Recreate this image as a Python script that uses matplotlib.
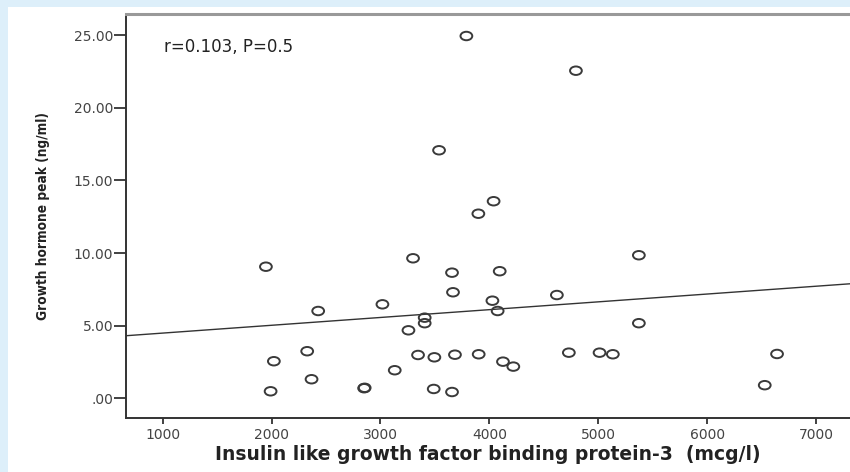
import numpy as np
import matplotlib.pyplot as plt
from matplotlib.path import Path
from matplotlib.transforms import Affine2D
from matplotlib.patches import Rectangle

# IGFBP-3 (mcg/l) vs growth hormone peak (ng/ml)
igfbp3 = [3789, 4795, 3538, 4039, 3899, 3299, 3657, 4095, 3666, 4620,
          4028, 3018, 2428, 4076, 3406, 3406, 3257, 2327, 3345, 3495,
          3684, 3902, 4730, 5012, 5134, 4125, 4220, 3131, 2367, 2850,
          2855, 3489, 3657, 5373, 5373, 6642, 6529, 1948, 2021, 1991]
gh_peak = [24.95, 22.56, 17.08, 13.57, 12.71, 9.64, 8.65, 8.75, 7.30, 7.11,
           6.72, 6.47, 6.01, 6.01, 5.55, 5.17, 4.68, 3.24, 2.98, 2.82,
           3.00, 3.03, 3.14, 3.14, 3.03, 2.52, 2.18, 1.93, 1.31, 0.69,
           0.72, 0.64, 0.43, 9.85, 5.17, 3.05, 0.90, 9.06, 2.55, 0.48]

# fit line as drawn in the figure
fit_intercept = 3.95
fit_slope = 0.000538

x_ticks = [1000, 2000, 3000, 4000, 5000, 6000, 7000]
y_ticks = [0, 5, 10, 15, 20, 25]
y_tick_labels = ['.00', '5.00', '10.00', '15.00', '20.00', '25.00']

fig = plt.figure(figsize=(8.5, 4.72), dpi=100)
fig.patch.set_facecolor('#ddeffa')
# white panel inside the blue frame (behind the axes)
fig.patches.append(Rectangle((8 / 850, 0), 1, 1 - 7 / 472, transform=fig.transFigure,
                             facecolor='white', edgecolor='none', zorder=-10))

ax = fig.add_axes([126 / 850, 1 - 418 / 472, 1 - 126 / 850, (418 - 13.5) / 472])
ax.set_facecolor('white')
ax.set_xlim(663, 7312)
ax.set_ylim(-1.36, 26.5)

# slightly flattened open circles, like the original
ellipse = Path.unit_circle().transformed(Affine2D().scale(1, 0.72))
ax.scatter(igfbp3, gh_peak, marker=ellipse, s=72, facecolors='none',
           edgecolors='#3a3a3a', linewidths=1.4, zorder=3)

xs = np.array(ax.get_xlim())
ax.plot(xs, fit_intercept + fit_slope * xs, color='#333333', lw=1.0, zorder=2)

ax.set_xticks(x_ticks)
ax.set_yticks(y_ticks)
ax.set_yticklabels(y_tick_labels)
ax.tick_params(axis='x', direction='out', length=4, width=1.3, color='#333333',
               labelsize=10, labelcolor='#444444', pad=3)
ax.tick_params(axis='y', direction='out', length=8.6, width=1.3, color='#333333',
               labelsize=10, labelcolor='#444444', pad=0.5)

for s in ['left', 'bottom']:
    ax.spines[s].set_color('#333333')
    ax.spines[s].set_linewidth(1.4)
ax.spines['top'].set_color('#999999')
ax.spines['top'].set_linewidth(2.2)
ax.spines['right'].set_visible(False)

ax.text(0.053, 0.918, 'r=0.103, P=0.5', transform=ax.transAxes, fontsize=12,
        color='#222222', va='center', ha='left')

ax.set_xlabel('Insulin like growth factor binding protein-3  (mcg/l)',
              fontsize=13.5, fontweight='bold', color='#222222', labelpad=2)
ax.set_ylabel('Growth hormone peak (ng/ml)', family='DejaVu Sans',
              fontstretch='condensed', fontsize=9.8, fontweight='bold',
              color='#222222', labelpad=17)

fig.savefig('out.png', dpi=100, facecolor=fig.get_facecolor())
